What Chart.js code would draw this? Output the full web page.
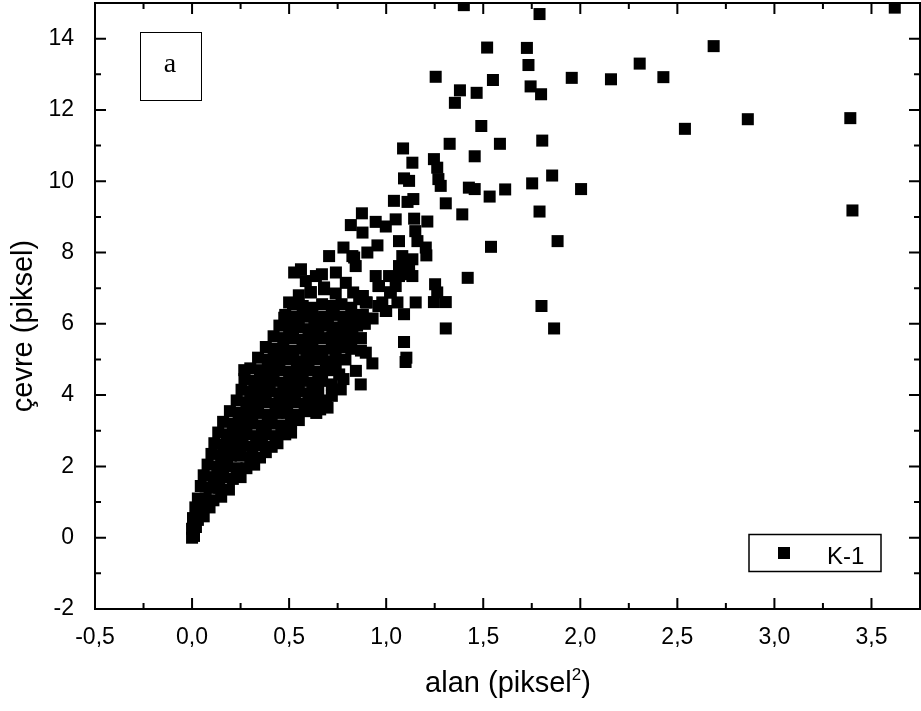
<!DOCTYPE html>
<html>
<head>
<meta charset="utf-8">
<script src="https://cdn.jsdelivr.net/npm/chart.js@4.4.0/dist/chart.umd.min.js"></script>
<style>
  html, body { margin: 0; padding: 0; background: #fff; }
  #wrap { width: 921px; height: 711px; }
</style>
</head>
<body>
<div id="wrap"><canvas id="chart" width="921" height="711"></canvas></div>
<script>
// K-1: alan (piksel^2) vs çevre (piksel)

const xTicks = [-0.5, 0, 0.5, 1, 1.5, 2, 2.5, 3, 3.5];
const yTicks = [-2, 0, 2, 4, 6, 8, 10, 12, 14];
const xRange = [-0.5, 3.75];
const yRange = [-2, 15];
const seriesName = 'K-1';
const panelLabel = 'a';

// dense part near the origin  [alan, çevre]
const coreBlob = [
  [0,0],[0.01,0.05],[0,0.25],[0.02,0.3],
  [0.005,0.55],[0.03,0.5],[0.06,0.6],
  [0.017,0.85],[0.05,0.8],[0.09,0.85],
  [0.03,1.1],[0.07,1.1],[0.11,1.05],[0.15,1.15],
  [0.045,1.45],[0.09,1.4],[0.14,1.4],[0.19,1.35],
  [0.06,1.75],[0.11,1.7],[0.16,1.7],[0.21,1.65],[0.25,1.7],
  [0.08,2.05],[0.13,2.0],[0.18,2.0],[0.23,1.95],[0.28,1.95],[0.32,2.05],
  [0.1,2.35],[0.15,2.3],[0.2,2.3],[0.25,2.3],[0.3,2.25],[0.35,2.25],[0.38,2.4],
  [0.115,2.65],[0.16,2.6],[0.21,2.6],[0.26,2.6],[0.31,2.55],[0.36,2.6],[0.41,2.55],[0.44,2.65],
  [0.135,2.95],[0.18,2.9],[0.23,2.9],[0.28,2.9],[0.33,2.85],[0.38,2.9],[0.43,2.85],[0.48,2.9],[0.51,2.95],
  [0.16,3.25],[0.21,3.2],[0.26,3.2],[0.31,3.2],[0.36,3.15],[0.41,3.2],[0.46,3.15],[0.51,3.2],[0.55,3.3],
  [0.195,3.55],[0.24,3.5],[0.29,3.5],[0.34,3.5],[0.39,3.45],[0.44,3.5],[0.49,3.5],[0.54,3.45],[0.59,3.55],[0.64,3.5],[0.66,3.6],
  [0.23,3.85],[0.28,3.8],[0.33,3.8],[0.38,3.8],[0.43,3.75],[0.48,3.8],[0.53,3.8],[0.58,3.75],[0.63,3.8],[0.69,3.85],
  [0.255,4.15],[0.3,4.1],[0.35,4.1],[0.4,4.1],[0.45,4.05],[0.5,4.1],[0.55,4.1],[0.6,4.05],[0.65,4.1],
  [0.27,4.45],[0.32,4.4],[0.37,4.4],[0.42,4.4],[0.47,4.35],[0.52,4.4],[0.57,4.4],[0.62,4.35],[0.67,4.4],
  [0.3,4.75],[0.35,4.7],[0.4,4.7],[0.45,4.7],[0.5,4.65],[0.55,4.7],[0.6,4.7],[0.65,4.65],[0.7,4.7],
  [0.34,5.05],[0.39,5.0],[0.44,5.0],[0.49,5.0],[0.54,4.95],[0.59,5.0],[0.64,5.0],[0.69,4.95],[0.74,5.05],[0.79,5.0],
  [0.38,5.35],[0.42,5.3],[0.47,5.3],[0.52,5.25],[0.57,5.3],[0.62,5.3],[0.67,5.25],[0.72,5.3],[0.77,5.35],[0.82,5.3],[0.87,5.25],
  [0.42,5.65],[0.47,5.6],[0.52,5.6],[0.57,5.55],[0.62,5.6],[0.67,5.6],[0.72,5.6],[0.77,5.65],[0.82,5.6],[0.87,5.6],
  [0.45,5.95],[0.5,5.9],[0.55,5.9],[0.6,5.85],[0.65,5.9],[0.7,5.95],[0.75,5.9],[0.8,5.9],[0.85,5.95],[0.89,6.0],
  [0.48,6.25],[0.53,6.2],[0.58,6.2],[0.63,6.15],[0.68,6.2],[0.73,6.25],[0.78,6.2],[0.83,6.15],[0.88,6.25],[0.93,6.15],
  [0.52,6.55],[0.57,6.5],[0.62,6.45],[0.67,6.55],[0.72,6.5],[0.77,6.55],[0.82,6.45],[0.9,6.6],[0.96,6.5],[1.0,6.36],
  [0.55,6.8],[0.61,6.88],[0.68,6.97],[0.74,6.85],[0.83,6.88],[0.88,6.78],[0.96,7.06],[1.02,6.88]
];

// looser band between 4 and 11
const midScatter = [
  [0.269,4.70],[0.698,3.65],[0.72,3.98],[0.766,4.16],[0.869,4.30],[0.929,4.89],[1.10,4.93],
  [0.844,4.68],[0.758,4.58],[0.7,4.9],[0.74,4.75],[0.78,4.45],[0.72,4.3],
  [0.475,6.17],[0.5,6.6],[0.535,6.55],[0.526,7.44],[0.561,7.53],[0.586,7.2],[0.612,6.89],
  [0.638,7.34],[0.669,7.39],[0.68,7.02],[0.706,7.9],[0.741,7.44],[0.78,8.14],[0.792,7.15],
  [0.818,8.77],[0.826,7.9],[0.835,7.86],[0.843,7.62],[0.875,9.10],[0.878,8.56],[0.903,8.0],
  [0.946,8.86],[0.955,8.2],[0.998,8.73],[1.049,8.93],[0.946,7.34],[0.963,7.06],[1.015,7.34],
  [1.049,7.06],[1.024,6.88],[1.066,7.34],[1.118,7.39],[1.109,7.53],[1.135,7.34],[0.98,6.6],
  [1.058,6.6],[1.152,6.6],[1.092,6.27],[0.886,6.03],[0.826,5.80],[0.895,5.19],[0.723,5.66],
  [0.775,5.38],[0.861,6.69],[0.895,6.60],[0.998,6.36],[1.083,7.90],[1.066,7.62],[1.118,7.67],
  [1.135,7.81],[1.066,8.32],[1.15,8.6],[1.161,8.32],[1.144,8.95],[1.204,8.14],[1.207,7.92],
  [1.212,8.87],[1.04,9.45],[1.11,9.42],[1.14,9.5],[1.118,10.01],[1.092,10.08],[1.135,10.52],
  [1.087,10.92],[1.246,10.62],[1.263,10.38],[1.269,10.06],[1.281,9.87],[1.307,9.38],[1.392,9.07],
  [1.327,11.05],[1.252,7.11],[1.263,6.88],[1.246,6.61],[1.307,6.61],[1.307,5.87],[1.092,5.49],
  [1.104,5.05],[1.42,7.29]
];

// sparse points to the upper right
const outliers = [
  [1.255,12.93],[1.354,12.20],[1.38,12.55],[1.466,12.48],[1.49,11.55],[1.456,10.70],
  [1.426,9.82],[1.456,9.78],[1.533,9.57],[1.613,9.77],[1.752,9.94],[1.855,10.16],[2.004,9.78],
  [1.79,9.15],[1.54,8.16],[1.883,8.32],[1.80,6.50],[1.865,5.87],
  [1.40,14.94],[1.79,14.69],[1.52,13.75],[1.725,13.74],[2.687,13.79],[1.733,13.26],[2.306,13.30],
  [1.55,12.84],[1.956,12.90],[2.158,12.86],[2.428,12.92],[1.744,12.66],[1.798,12.44],[3.62,14.87],
  [2.539,11.47],[2.863,11.74],[3.391,11.77],[1.586,11.05],[1.804,11.14],[3.402,9.18]
];

const FONT = '"Liberation Sans", Arial, sans-serif';
const fmt = v => v.toFixed(1).replace('.', ',');

const points = coreBlob.concat(midScatter, outliers).map(([x, y]) => ({ x, y }));

// box, inward ticks on all four sides, inset label, legend and axis titles
const frame = {
  id: 'frame',
  afterDraw(chart) {
    const { ctx, chartArea: a, scales: { x, y } } = chart;
    ctx.save();
    ctx.strokeStyle = '#000';
    ctx.lineWidth = 2;
    ctx.strokeRect(a.left, a.top, a.right - a.left, a.bottom - a.top);

    ctx.beginPath();
    xTicks.forEach(v => {
      const px = x.getPixelForValue(v);
      ctx.moveTo(px, a.bottom); ctx.lineTo(px, a.bottom - 11);
      ctx.moveTo(px, a.top); ctx.lineTo(px, a.top + 11);
      const m = v + 0.25;
      if (m < xRange[1]) {
        const pm = x.getPixelForValue(m);
        ctx.moveTo(pm, a.bottom); ctx.lineTo(pm, a.bottom - 6);
        ctx.moveTo(pm, a.top); ctx.lineTo(pm, a.top + 6);
      }
    });
    yTicks.forEach(v => {
      const py = y.getPixelForValue(v);
      ctx.moveTo(a.left, py); ctx.lineTo(a.left + 11, py);
      ctx.moveTo(a.right, py); ctx.lineTo(a.right - 11, py);
      const m = v + 1;
      if (m < yRange[1]) {
        const pm = y.getPixelForValue(m);
        ctx.moveTo(a.left, pm); ctx.lineTo(a.left + 6, pm);
        ctx.moveTo(a.right, pm); ctx.lineTo(a.right - 6, pm);
      }
    });
    ctx.stroke();

    // panel label box
    ctx.lineWidth = 1;
    ctx.strokeRect(140.5, 32.5, 61, 68);
    ctx.fillStyle = '#000';
    ctx.font = '28px "Liberation Serif", "Times New Roman", serif';
    ctx.textAlign = 'center';
    ctx.textBaseline = 'alphabetic';
    ctx.fillText(panelLabel, 170, 72);

    // legend
    ctx.lineWidth = 1.5;
    ctx.strokeRect(749, 534.5, 132, 37);
    ctx.fillRect(778, 547, 12, 12);
    ctx.font = '24px ' + FONT;
    ctx.textAlign = 'left';
    ctx.fillText(seriesName, 827, 564);

    // x title with superscript
    const big = '29px ' + FONT, small = '17px ' + FONT;
    ctx.font = big;
    const t1 = 'alan (piksel', t3 = ')';
    const w1 = ctx.measureText(t1).width, w3 = ctx.measureText(t3).width;
    ctx.font = small;
    const w2 = ctx.measureText('2').width;
    const sx = 508 - (w1 + w2 + w3) / 2;
    ctx.font = big;
    ctx.fillText(t1, sx, 692);
    ctx.font = small;
    ctx.fillText('2', sx + w1, 680);
    ctx.font = big;
    ctx.fillText(t3, sx + w1 + w2, 692);

    // y title
    ctx.translate(32, 326);
    ctx.rotate(-Math.PI / 2);
    ctx.textAlign = 'center';
    ctx.fillText('çevre (piksel)', 0, 0);
    ctx.restore();
  }
};

new Chart(document.getElementById('chart'), {
  type: 'scatter',
  data: {
    datasets: [{
      label: seriesName,
      data: points,
      pointStyle: 'rect',
      pointRadius: 8.5,
      pointBorderWidth: 0,
      backgroundColor: '#000',
      borderColor: '#000'
    }]
  },
  options: {
    responsive: false,
    animation: false,
    devicePixelRatio: 1,
    events: [],
    layout: { autoPadding: false, padding: { top: 3, right: 1, left: 0, bottom: 0 } },
    plugins: { legend: { display: false }, tooltip: { enabled: false } },
    scales: {
      x: {
        type: 'linear',
        min: xRange[0], max: xRange[1],
        afterBuildTicks: s => { s.ticks = xTicks.map(v => ({ value: v })); },
        afterFit: s => { s.height = 102; s.paddingLeft = 0; s.paddingRight = 0; },
        grid: { display: false },
        border: { display: false },
        ticks: {
          color: '#000', padding: 7, maxRotation: 0, autoSkip: false,
          font: { family: FONT, size: 23 },
          callback: v => fmt(v)
        }
      },
      y: {
        type: 'linear',
        min: yRange[0], max: yRange[1],
        afterBuildTicks: s => { s.ticks = yTicks.map(v => ({ value: v })); },
        afterFit: s => { s.width = 95; s.paddingTop = 0; s.paddingBottom = 0; },
        grid: { display: false },
        border: { display: false },
        ticks: {
          color: '#000', padding: 13, autoSkip: false,
          font: { family: FONT, size: 23 },
          callback: v => String(v)
        }
      }
    }
  },
  plugins: [frame]
});
</script>
</body>
</html>
